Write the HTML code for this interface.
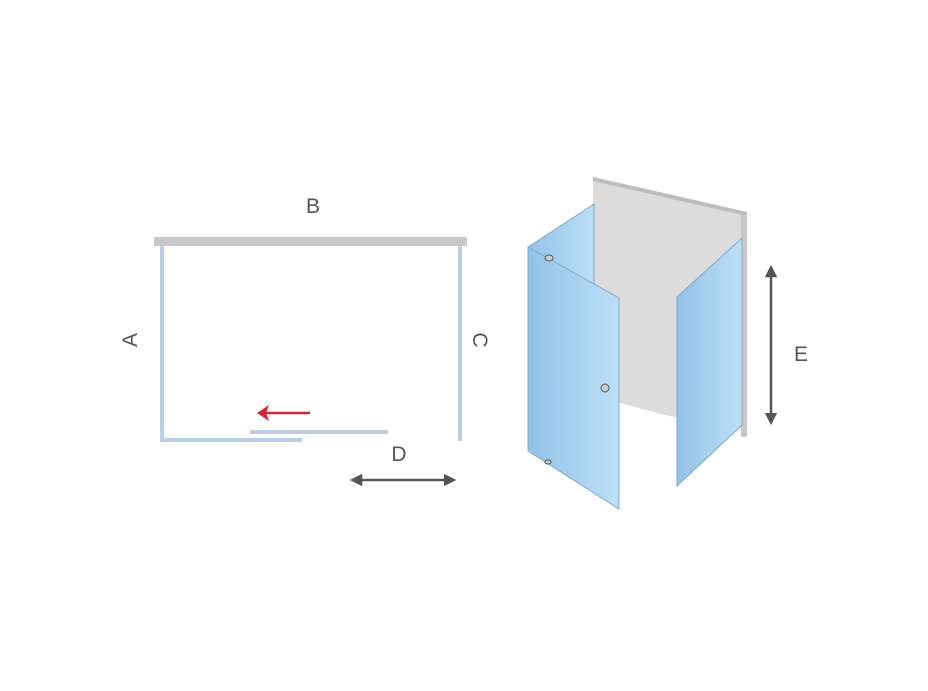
<!DOCTYPE html>
<html><head><style>
body{margin:0;background:#fff;width:928px;height:686px;overflow:hidden}
text{font-family:"Liberation Sans",sans-serif;fill:#555;font-size:21px}
</style></head><body>
<svg width="928" height="686" viewBox="0 0 928 686">
<defs>
<linearGradient id="g" x1="0" x2="1" y1="0" y2="0">
<stop offset="0" stop-color="#93c2e6"/><stop offset="1" stop-color="#bde0f7"/>
</linearGradient>
<marker id="ah" viewBox="0 0 10 10" refX="5" refY="5" markerWidth="5" markerHeight="5" orient="auto-start-reverse"><path d="M0,0L10,5L0,10z" fill="#555"/></marker>
</defs>
<rect x="154" y="237" width="313" height="9" fill="#c8c8c8"/>
<g stroke="#b9d0e6" stroke-width="4" fill="none">
<path d="M162,246V440H302"/>
<path d="M460,246V441"/>
<path d="M250,432H388"/>
</g>
<path d="M310,413H262" stroke="#d0283a" stroke-width="2.5"/>
<path d="M257,413l12,-8l-3,8l3,8z" fill="#d0283a"/>
<path d="M356,480H450" stroke="#555" stroke-width="2.5" marker-start="url(#ah)" marker-end="url(#ah)"/>
<text x="313" y="213" text-anchor="middle">B</text>
<text x="399" y="461" text-anchor="middle">D</text>
<text transform="translate(137,340) rotate(-90)" text-anchor="middle">A</text>
<text transform="translate(473,340) rotate(90)" text-anchor="middle">C</text>
<polygon points="593,177 747,212 747,437 741,437 741,420 677,418 620,403 593,400" fill="#dcdcdc"/>
<polygon points="593,177 747,212 747,216 593,181" fill="#bdbdbd"/>
<rect x="741" y="215" width="6" height="222" fill="#c9c9c9"/>
<polygon points="528,247 594,204 594,290 528,300" fill="url(#g)" stroke="#7fa8c8" stroke-width="1"/>
<polygon points="528,247 619,298 619,509 528,451" fill="url(#g)" stroke="#7fa8c8" stroke-width="1"/>
<polygon points="677,297 742,238 742,425 677,486" fill="url(#g)" stroke="#7fa8c8" stroke-width="1"/>
<g fill="#ccc" stroke="#555" stroke-width="1">
<ellipse cx="549" cy="258" rx="4" ry="3"/>
<ellipse cx="605" cy="388" rx="4" ry="4"/>
<ellipse cx="548" cy="462" rx="3" ry="2"/>
</g>
<path d="M771,271V419" stroke="#555" stroke-width="2.5" marker-start="url(#ah)" marker-end="url(#ah)"/>
<text x="801" y="361" text-anchor="middle" font-size="24">E</text>
</svg>
</body></html>
